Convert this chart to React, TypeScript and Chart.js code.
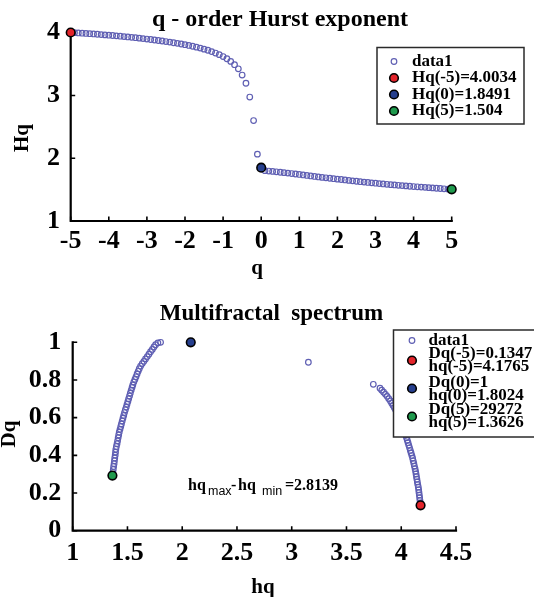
import React, { useEffect, useRef } from "react";
import { Chart, registerables } from "chart.js";

Chart.register(...registerables);

const SERIF = "'Liberation Serif', 'Times New Roman', Times, serif";
const SANS = "'Liberation Sans', Arial, Helvetica, sans-serif";

// ---------- q-order Hurst exponent ----------
const qValues = [
  -5, -4.9, -4.8, -4.7, -4.6, -4.5, -4.4, -4.3, -4.2, -4.1,
  -4, -3.9, -3.8, -3.7, -3.6, -3.5, -3.4, -3.3, -3.2, -3.1,
  -3, -2.9, -2.8, -2.7, -2.6, -2.5, -2.4, -2.3, -2.2, -2.1,
  -2, -1.9, -1.8, -1.7, -1.6, -1.5, -1.4, -1.3, -1.2, -1.1,
  -1, -0.9, -0.8, -0.7, -0.6, -0.5, -0.4, -0.3, -0.2, -0.1,
  0,
  0.1, 0.2, 0.3, 0.4, 0.5, 0.6, 0.7, 0.8, 0.9, 1,
  1.1, 1.2, 1.3, 1.4, 1.5, 1.6, 1.7, 1.8, 1.9, 2,
  2.1, 2.2, 2.3, 2.4, 2.5, 2.6, 2.7, 2.8, 2.9, 3,
  3.1, 3.2, 3.3, 3.4, 3.5, 3.6, 3.7, 3.8, 3.9, 4,
  4.1, 4.2, 4.3, 4.4, 4.5, 4.6, 4.7, 4.8, 4.9, 5,
];
const hqValues = [
  4.0034, 4.0, 3.996, 3.992, 3.988, 3.984, 3.98, 3.975, 3.97, 3.965,
  3.96, 3.955, 3.95, 3.944, 3.938, 3.932, 3.926, 3.92, 3.913, 3.906,
  3.899, 3.892, 3.884, 3.876, 3.868, 3.859, 3.85, 3.84, 3.83, 3.82,
  3.809, 3.797, 3.784, 3.77, 3.755, 3.738, 3.72, 3.699, 3.676, 3.65,
  3.62, 3.585, 3.543, 3.49, 3.425, 3.325, 3.195, 2.975, 2.6, 2.065,
  1.8491,
  1.802, 1.796, 1.79, 1.784, 1.777, 1.77, 1.763, 1.756, 1.749, 1.742,
  1.734, 1.726, 1.718, 1.71, 1.702, 1.695, 1.688, 1.681, 1.674, 1.667,
  1.661, 1.654, 1.647, 1.64, 1.633, 1.626, 1.62, 1.614, 1.608, 1.602,
  1.596, 1.59, 1.585, 1.579, 1.574, 1.569, 1.564, 1.559, 1.554, 1.549,
  1.545, 1.54, 1.536, 1.531, 1.527, 1.522, 1.518, 1.513, 1.509, 1.504,
];
const hurstMarkQ = [-5, 0, 5];
const hurstMarkHq = [4.0034, 1.8491, 1.504];
const hurstMarkLabels = ["Hq(-5)=4.0034", "Hq(0)=1.8491", "Hq(5)=1.504"];
const hurstXTicks = [-5, -4, -3, -2, -1, 0, 1, 2, 3, 4, 5];
const hurstYTicks = [1, 2, 3, 4];

// ---------- Multifractal spectrum ----------
const spectrumHq = [
  4.1765, 4.174, 4.171, 4.168, 4.165, 4.162, 4.159, 4.156, 4.151, 4.147,
  4.143, 4.139, 4.135, 4.131, 4.126, 4.12, 4.115, 4.109, 4.104, 4.097,
  4.09, 4.083, 4.076, 4.069, 4.062, 4.055, 4.048, 4.04, 4.032, 4.024,
  4.016, 4.008, 3.999, 3.989, 3.979, 3.969, 3.959, 3.949, 3.937, 3.925,
  3.913, 3.901, 3.886, 3.871, 3.856, 3.839, 3.822, 3.806, 3.745, 3.152,
  1.8024, 1.778, 1.757, 1.742, 1.727, 1.711, 1.696, 1.681, 1.665, 1.65,
  1.635, 1.62, 1.608, 1.598, 1.588, 1.578, 1.568, 1.558, 1.549, 1.542,
  1.534, 1.526, 1.519, 1.511, 1.504, 1.496, 1.489, 1.481, 1.473, 1.466,
  1.459, 1.452, 1.445, 1.439, 1.432, 1.425, 1.42, 1.415, 1.41, 1.405,
  1.399, 1.394, 1.391, 1.388, 1.384, 1.381, 1.378, 1.374, 1.3705, 1.3668,
  1.3626,
];
const spectrumDq = [
  0.1347, 0.148, 0.161, 0.175, 0.189, 0.203, 0.217, 0.231, 0.245, 0.259,
  0.273, 0.287, 0.301, 0.315, 0.329, 0.343, 0.357, 0.371, 0.385, 0.399,
  0.413, 0.426, 0.44, 0.453, 0.467, 0.48, 0.494, 0.507, 0.521, 0.534,
  0.548, 0.562, 0.576, 0.589, 0.602, 0.615, 0.628, 0.641, 0.653, 0.665,
  0.677, 0.689, 0.701, 0.713, 0.724, 0.735, 0.746, 0.756, 0.777, 0.894,
  1.0, 0.997, 0.987, 0.975, 0.962, 0.95, 0.937, 0.924, 0.912, 0.899,
  0.887, 0.874, 0.86, 0.846, 0.832, 0.817, 0.803, 0.789, 0.774, 0.76,
  0.745, 0.73, 0.715, 0.701, 0.686, 0.671, 0.656, 0.642, 0.627, 0.612,
  0.597, 0.582, 0.567, 0.553, 0.538, 0.523, 0.508, 0.493, 0.477, 0.462,
  0.447, 0.432, 0.417, 0.401, 0.386, 0.371, 0.356, 0.341, 0.325, 0.31,
  0.2927,
];
const spectrumMarkHq = [4.1765, 2.078, 1.3626];
const spectrumMarkDq = [0.1347, 1.0, 0.29272];
const spectrumMarkLabels = [
  "Dq(-5)=0.1347\nhq(-5)=4.1765",
  "Dq(0)=1\nhq(0)=1.8024",
  "Dq(5)=29272\nhq(5)=1.3626",
];
const spectrumXTicks = [1, 1.5, 2, 2.5, 3, 3.5, 4, 4.5];
const spectrumYTicks = [0, 0.2, 0.4, 0.6, 0.8, 1];
const widthText = "2.8139";

const markColors = ["#e3242b", "#263f8e", "#1f9a4d"];
const dataColor = "#5f5fb3";

// ---------- plugin: MATLAB-like axes, titles, legend ----------
const decorPlugin = {
  id: "matlabDecor",
  beforeDatasetsDraw(chart: any) {
    const ctx = chart.ctx;
    const { left, right, top, bottom } = chart.chartArea;
    const xs = chart.scales.x;
    const ys = chart.scales.y;
    ctx.save();
    ctx.strokeStyle = "#000";
    ctx.lineWidth = 1.6;
    ctx.beginPath();
    xs.ticks.forEach((t: any) => {
      const px = xs.getPixelForValue(t.value);
      ctx.moveTo(px, bottom);
      ctx.lineTo(px, bottom - 4.5);
    });
    ys.ticks.forEach((t: any) => {
      const py = ys.getPixelForValue(t.value);
      ctx.moveTo(left, py);
      ctx.lineTo(left + 4.5, py);
    });
    ctx.stroke();
    ctx.lineWidth = 2.2;
    ctx.lineCap = "square";
    ctx.beginPath();
    ctx.moveTo(left, top);
    ctx.lineTo(left, bottom);
    ctx.lineTo(right, bottom);
    ctx.stroke();
    ctx.restore();
  },
  afterDraw(chart: any, _a: any, o: any) {
    const ctx = chart.ctx;
    ctx.save();
    ctx.fillStyle = "#000";
    ctx.textAlign = "center";
    ctx.textBaseline = "alphabetic";
    ctx.font = `bold ${o.title.size}px ${SERIF}`;
    ctx.fillText(o.title.text, o.title.x, o.title.y);
    ctx.font = `bold ${o.xLabel.size}px ${SERIF}`;
    ctx.fillText(o.xLabel.text, o.xLabel.x, o.xLabel.y);
    ctx.save();
    ctx.translate(o.yLabel.x, o.yLabel.y);
    ctx.rotate(-Math.PI / 2);
    ctx.font = `bold ${o.yLabel.size}px ${SERIF}`;
    ctx.fillText(o.yLabel.text, 0, 0);
    ctx.restore();

    if (o.annotation) {
      ctx.textAlign = "left";
      o.annotation.forEach((p: any) => {
        ctx.font = p.font;
        ctx.fillText(p.text, p.x, p.y);
      });
    }

    const L = o.legend;
    const [bx, by, bw, bh] = L.box;
    ctx.fillStyle = "#fff";
    ctx.fillRect(bx, by, bw, bh);
    ctx.strokeStyle = "#2a2a2a";
    ctx.lineWidth = 1.5;
    ctx.strokeRect(bx, by, bw, bh);
    ctx.font = `bold ${L.size}px ${SERIF}`;
    ctx.textAlign = "left";
    ctx.textBaseline = "middle";
    chart.data.datasets.forEach((ds: any, i: number) => {
      const row = L.rows[i];
      ctx.fillStyle = "#000";
      String(ds.label)
        .split("\n")
        .forEach((t: string, j: number) => ctx.fillText(t, L.textX, row.lines[j]));
      ctx.beginPath();
      ctx.arc(L.markerX, row.marker, ds.pointRadius, 0, Math.PI * 2);
      if (ds.backgroundColor && ds.backgroundColor !== "transparent") {
        ctx.fillStyle = ds.backgroundColor;
        ctx.fill();
      }
      ctx.lineWidth = ds.borderWidth;
      ctx.strokeStyle = ds.borderColor;
      ctx.stroke();
    });
    ctx.restore();
  },
};

function makeScale(min: number, max: number, ticks: number[], pad: number, fitKey: string, fitVal: number) {
  return {
    type: "linear",
    min,
    max,
    grid: { display: false, drawTicks: false },
    border: { display: false },
    afterBuildTicks: (s: any) => {
      s.ticks = ticks.map((v) => ({ value: v }));
    },
    afterFit: (s: any) => {
      s[fitKey] = fitVal;
    },
    ticks: {
      padding: pad,
      color: "#000",
      autoSkip: false,
      maxRotation: 0,
      font: { family: SERIF, size: 26, weight: "bold", lineHeight: 1.2 },
      callback: (v: any) => String(v),
    },
  };
}

function markDatasets(xs: number[], ys: number[], labels: string[]) {
  return labels.map((label, i) => ({
    label,
    data: [{ x: xs[i], y: ys[i] }],
    pointRadius: 4.3,
    pointHoverRadius: 4.3,
    borderWidth: 1.6,
    borderColor: "#000",
    backgroundColor: markColors[i],
    clip: false,
    order: 0,
  }));
}

function dataDataset(points: { x: number; y: number }[]) {
  return {
    label: "data1",
    data: points,
    pointRadius: 2.8,
    pointHoverRadius: 2.8,
    borderWidth: 1.2,
    borderColor: dataColor,
    backgroundColor: "transparent",
    clip: false,
    order: 1,
  };
}

function hurstConfig(): any {
  return {
    type: "scatter",
    data: {
      datasets: [
        dataDataset(qValues.map((q, i) => ({ x: q, y: hqValues[i] }))),
        ...markDatasets(hurstMarkQ, hurstMarkHq, hurstMarkLabels),
      ],
    },
    options: {
      animation: false,
      responsive: false,
      devicePixelRatio: 1,
      events: [],
      layout: { padding: { left: 0, top: 32.7, right: 82.3, bottom: 0 } },
      scales: {
        x: makeScale(-5, 5, hurstXTicks, 5, "height", 79),
        y: makeScale(1, 4, hurstYTicks, 10.7, "width", 70.7),
      },
      plugins: {
        legend: { display: false },
        tooltip: { enabled: false },
        matlabDecor: {
          title: { text: "q - order Hurst exponent", x: 280, y: 25.5, size: 24 },
          xLabel: { text: "q", x: 257, y: 273.5, size: 21 },
          yLabel: { text: "Hq", x: 28, y: 138, size: 21 },
          legend: {
            box: [377, 47.5, 147, 76.5],
            size: 17,
            textX: 412,
            markerX: 394,
            rows: [
              { lines: [61.5], marker: 61.5 },
              { lines: [78], marker: 78 },
              { lines: [94.5], marker: 94.5 },
              { lines: [111], marker: 111 },
            ],
          },
        },
      },
    },
    plugins: [decorPlugin],
  };
}

function spectrumConfig(): any {
  const big = `bold 16px ${SERIF}`;
  const sub = `12.5px ${SANS}`;
  return {
    type: "scatter",
    data: {
      datasets: [
        dataDataset(spectrumHq.map((h, i) => ({ x: h, y: spectrumDq[i] }))),
        ...markDatasets(spectrumMarkHq, spectrumMarkDq, spectrumMarkLabels),
      ],
    },
    options: {
      animation: false,
      responsive: false,
      devicePixelRatio: 1,
      events: [],
      layout: { padding: { left: 0, top: 42.3, right: 78, bottom: 0 } },
      scales: {
        x: makeScale(1, 4.5, spectrumXTicks, 7, "height", 66.3),
        y: makeScale(0, 1, spectrumYTicks, 11.5, "width", 72.7),
      },
      plugins: {
        legend: { display: false },
        tooltip: { enabled: false },
        matlabDecor: {
          title: { text: "Multifractal  spectrum", x: 271.5, y: 20.4, size: 23 },
          xLabel: { text: "hq", x: 263, y: 292.5, size: 21 },
          yLabel: { text: "Dq", x: 15, y: 134, size: 21 },
          annotation: [
            { text: "hq", x: 188, y: 190, font: big },
            { text: "max", x: 208, y: 195, font: sub },
            { text: "-", x: 231, y: 190, font: big },
            { text: "hq", x: 238, y: 190, font: big },
            { text: "min", x: 262, y: 195, font: sub },
            { text: "=" + widthText, x: 285, y: 190, font: big },
          ],
          legend: {
            box: [393.5, 30, 160, 107],
            size: 17,
            textX: 428.5,
            markerX: 412,
            rows: [
              { lines: [40.5], marker: 40.5 },
              { lines: [53.5, 66.5], marker: 60.5 },
              { lines: [83, 96], marker: 88.5 },
              { lines: [109.5, 122.5], marker: 116.5 },
            ],
          },
        },
      },
    },
    plugins: [decorPlugin],
  };
}

function ChartCanvas({ make, top, height }: { make: () => any; top: number; height: number }) {
  const ref = useRef<HTMLCanvasElement | null>(null);
  useEffect(() => {
    if (!ref.current) return;
    const chart = new Chart(ref.current, make());
    return () => chart.destroy();
  }, [make]);
  return (
    <canvas
      ref={ref}
      width={534}
      height={height}
      style={{ position: "absolute", left: 0, top, width: 534, height, display: "block" }}
    />
  );
}

export default function App() {
  return (
    <div style={{ position: "absolute", left: 0, top: 0, width: 534, height: 597, background: "#fff", overflow: "hidden" }}>
      <ChartCanvas make={hurstConfig} top={0} height={300} />
      <ChartCanvas make={spectrumConfig} top={300} height={297} />
    </div>
  );
}
